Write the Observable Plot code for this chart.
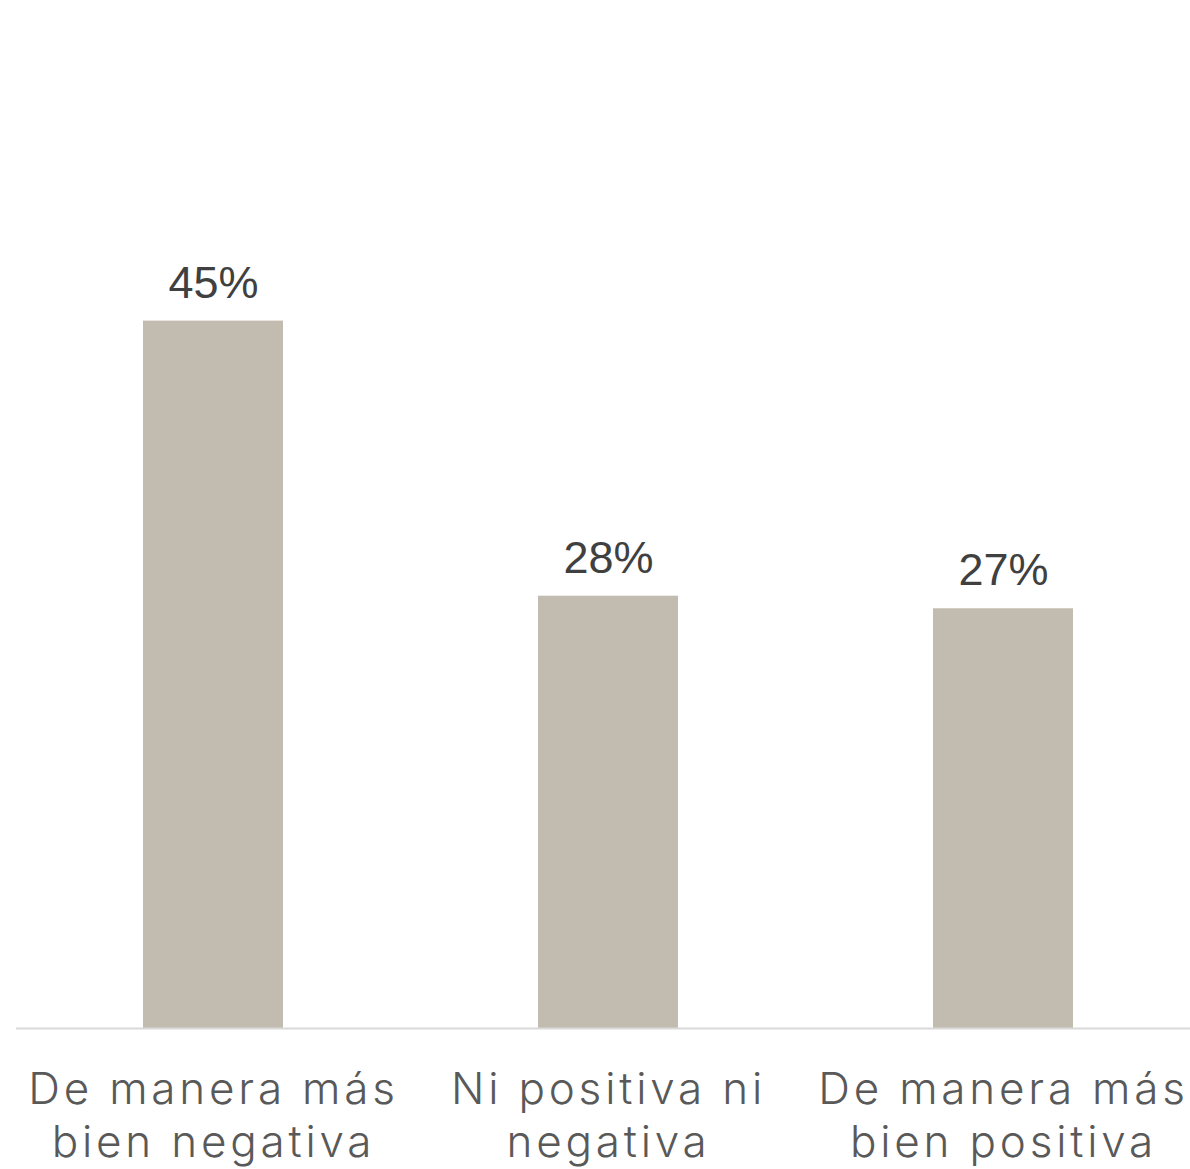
<!DOCTYPE html>
<html>
<head>
<meta charset="utf-8">
<script src="https://cdn.jsdelivr.net/npm/d3@7"></script>
<script src="https://cdn.jsdelivr.net/npm/@observablehq/plot@0.6"></script>
<style>
  body { margin: 0; background: #fff; }
  g[aria-label="x-axis tick label"] text { letter-spacing: 3.8px; }
</style>
</head>
<body>
<div id="chart"></div>
<script>
const categories = ["De manera más\nbien negativa", "Ni positiva ni\nnegativa", "De manera más\nbien positiva"];
const values = [45, 27.5, 26.7];
const labels = ["45%", "28%", "27%"];

const data = categories.map((c, i) => ({cat: c, value: values[i], label: labels[i]}));

const chart = Plot.plot({
  width: 1190,
  height: 1169,
  marginTop: 242,
  marginBottom: 141,
  marginLeft: 16,
  marginRight: 0,
  x: {domain: categories, range: [15.5, 1200.5], paddingInner: 0.6456, paddingOuter: 0.3228, label: null},
  y: {domain: [0, 50], axis: null},
  marks: [
    Plot.barY(data, {x: "cat", y: "value", fill: "#c2bbb0"}),
    Plot.ruleY([0], {stroke: "#d9d9d9", strokeWidth: 2}),
    Plot.text(data, {x: "cat", y: "value", text: "label", dy: -38, fontSize: 45, fill: "#404040", fontFamily: "Liberation Sans, Arial, sans-serif"}),
    Plot.axisX({tickSize: 0, tickPadding: 38, fontSize: 44, lineHeight: 1.2, fill: "#595959", fontFamily: "Inter, sans-serif", fontWeight: 300, label: null})
  ]
});
document.getElementById("chart").appendChild(chart);
</script>
</body>
</html>
